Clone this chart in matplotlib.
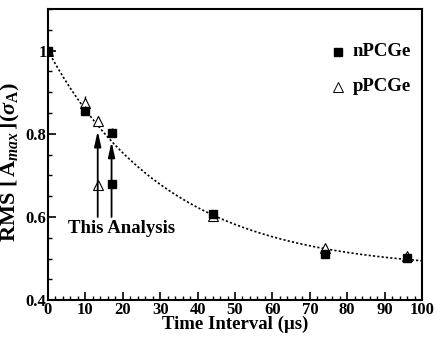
import numpy as np
import matplotlib
matplotlib.use("Agg")
import matplotlib.pyplot as plt
from matplotlib.ticker import MultipleLocator

plt.rcParams['font.family'] = ['Liberation Serif', 'DejaVu Serif']
plt.rcParams['font.weight'] = 'bold'
plt.rcParams['mathtext.fontset'] = 'custom'
plt.rcParams['mathtext.rm'] = 'Liberation Serif:bold'
plt.rcParams['mathtext.it'] = 'Liberation Serif:italic:bold'
plt.rcParams['mathtext.bf'] = 'Liberation Serif:bold'

# nPCGe points (squares)
n_t = [0, 10, 17, 44, 74, 96]
n_rms = [1.0, 0.856, 0.803, 0.607, 0.510, 0.502]
n_err = [0.005, 0.01, 0.01, 0.008, 0.008, 0.006]

# pPCGe points (open triangles)
p_t = [0, 10, 13.3, 44, 74, 96]
p_rms = [1.0, 0.875, 0.830, 0.603, 0.525, 0.505]
p_err = [0.005, 0.015, 0.012, 0.008, 0.008, 0.006]

# this analysis
ta_t = [13.3, 17]
ta_rms = [0.677, 0.680]
arrow_top = [0.807, 0.781]
arrow_base = 0.60

# exponential fit: a + b*exp(-t/tau)
fit_a, fit_b, fit_tau = 0.4714, 0.5286, 32.0

fig = plt.figure(figsize=(4.36, 3.38), dpi=100)
ax = fig.add_axes([0.110, 0.112, 0.858, 0.861])

tt = np.linspace(0, 100, 300)
ax.plot(tt, fit_a + fit_b*np.exp(-tt/fit_tau), color='black', ls=(0, (1.3, 1.3)), lw=1.2)

ax.errorbar(p_t, p_rms, yerr=p_err, fmt='^', mfc='white', mec='black', ecolor='black',
            ms=7.5, mew=0.8, elinewidth=1, capsize=0, zorder=3)
ax.errorbar(n_t, n_rms, yerr=n_err, fmt='s', color='black', ms=6, elinewidth=1,
            capsize=0, zorder=4)

ax.plot(ta_t[0], ta_rms[0], '^', mfc='white', mec='black', ms=7.5, mew=0.8, zorder=3)
ax.plot(ta_t[1], ta_rms[1], 's', color='black', ms=6, zorder=4)
for x, top in zip(ta_t, arrow_top):
    ax.annotate('', xy=(x, top), xytext=(x, arrow_base),
                arrowprops=dict(arrowstyle='-|>,head_length=0.9,head_width=0.2',
                                color='black', lw=1.3, shrinkA=0, shrinkB=0))
ax.text(5.3, 0.573, 'This Analysis', fontsize=13.5, fontweight='bold', va='center')

# legend
ax.plot(77.4, 0.9975, 's', color='black', ms=5.5)
ax.text(81.5, 0.997, 'nPCGe', fontsize=13.5, fontweight='bold', va='center')
ax.plot(77.4, 0.913, '^', mfc='white', mec='black', ms=6.5, mew=0.7)
ax.text(81.5, 0.913, 'pPCGe', fontsize=13.5, fontweight='bold', va='center')

ax.set_xlim(0, 100)
ax.set_ylim(0.4, 1.1)
ax.xaxis.set_major_locator(MultipleLocator(10))
ax.xaxis.set_minor_locator(MultipleLocator(2))
ax.yaxis.set_minor_locator(MultipleLocator(0.05))
ax.set_yticks([0.4, 0.6, 0.8, 1.0])
ax.set_yticklabels(['0.4', '0.6', '0.8', '1'])
ax.tick_params(which='both', direction='in', top=False, right=False, labelsize=12, pad=1)
ax.tick_params(which='major', length=6, width=1.2)
ax.tick_params(which='minor', length=3, width=1)
for sp in ax.spines.values():
    sp.set_linewidth(1.5)

ax.set_xlabel(u'Time Interval (\u00b5s)', fontsize=13.5, fontweight='bold', labelpad=-1)
ax.set_ylabel(r'RMS $[\,\mathrm{A}_{max}\,](\sigma_{\mathrm{A}})$',
              fontsize=16, fontweight='bold')
ax.yaxis.set_label_coords(-0.07, 0.475)

fig.savefig('out.png', dpi=100)
